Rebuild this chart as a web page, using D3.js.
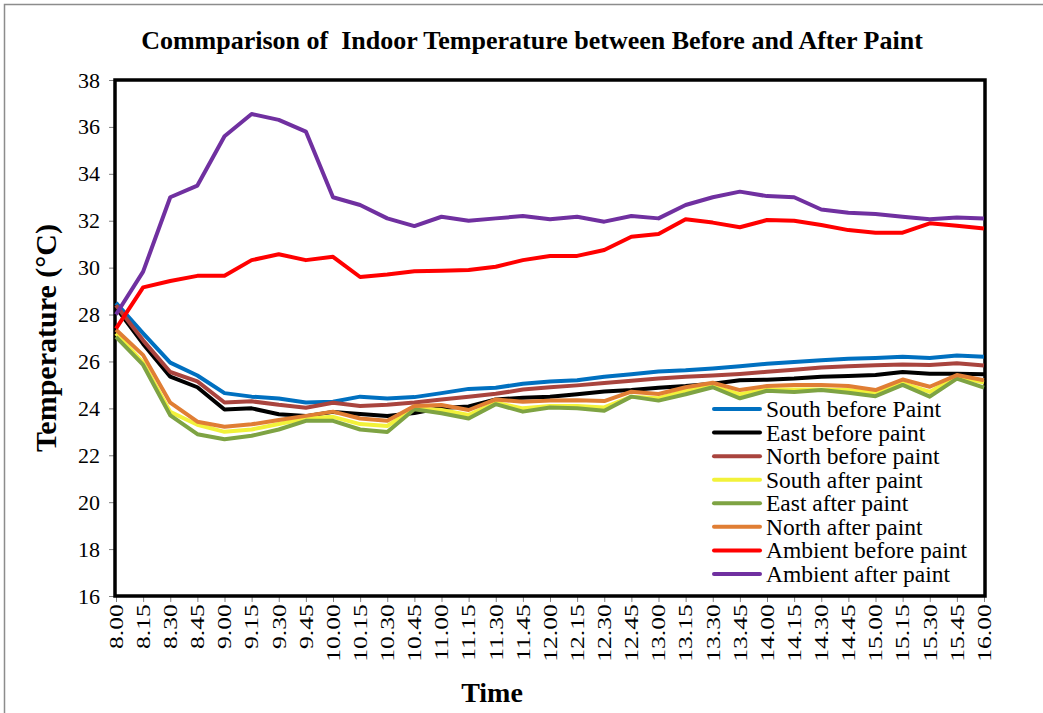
<!DOCTYPE html>
<html>
<head>
<meta charset="utf-8">
<script src="https://cdn.jsdelivr.net/npm/d3@7"></script>
<style>
  html, body { margin: 0; padding: 0; background: #fff; }
  svg { display: block; }
  text { font-family: "Liberation Serif", "Times New Roman", serif; }
</style>
</head>
<body>
<svg id="chart" width="1043" height="713"></svg>
<script>
const times = ["8.00","8.15","8.30","8.45","9.00","9.15","9.30","9.45","10.00","10.15","10.30","10.45","11.00","11.15","11.30","11.45","12.00","12.15","12.30","12.45","13.00","13.15","13.30","13.45","14.00","14.15","14.30","14.45","15.00","15.15","15.30","15.45","16.00"];

const southBefore = [28.5, 27.2, 25.95, 25.4, 24.65, 24.5, 24.42, 24.25, 24.28, 24.5, 24.42, 24.48, 24.65, 24.83, 24.88, 25.05, 25.15, 25.2, 25.35, 25.45, 25.57, 25.62, 25.7, 25.8, 25.9, 25.98, 26.05, 26.12, 26.15, 26.2, 26.15, 26.25, 26.2];
const eastBefore = [28.3, 26.75, 25.35, 24.9, 23.95, 24.0, 23.75, 23.67, 23.85, 23.76, 23.67, 23.8, 24.02, 24.08, 24.38, 24.45, 24.5, 24.6, 24.72, 24.78, 24.88, 24.95, 25.05, 25.2, 25.22, 25.27, 25.35, 25.38, 25.42, 25.55, 25.48, 25.48, 25.45];
const northBefore = [28.4, 26.9, 25.55, 25.15, 24.25, 24.3, 24.15, 24.03, 24.24, 24.1, 24.15, 24.25, 24.38, 24.5, 24.62, 24.8, 24.9, 24.98, 25.08, 25.18, 25.27, 25.35, 25.4, 25.47, 25.56, 25.65, 25.74, 25.8, 25.84, 25.87, 25.85, 25.92, 25.83];
const southAfter = [27.2, 25.95, 23.85, 23.3, 23.0, 23.1, 23.33, 23.57, 23.64, 23.33, 23.25, 24.0, 23.93, 23.72, 24.24, 24.0, 24.1, 24.1, 24.04, 24.5, 24.43, 24.75, 24.95, 24.6, 24.8, 24.8, 24.8, 24.78, 24.67, 25.08, 24.7, 25.35, 25.1];
const eastAfter = [27.05, 25.85, 23.7, 22.9, 22.68, 22.83, 23.1, 23.47, 23.47, 23.1, 22.99, 23.96, 23.79, 23.57, 24.18, 23.86, 24.04, 24.0, 23.9, 24.5, 24.33, 24.6, 24.9, 24.43, 24.75, 24.7, 24.78, 24.67, 24.52, 25.0, 24.5, 25.27, 24.88];
const northAfter = [27.35, 26.27, 24.24, 23.43, 23.22, 23.32, 23.5, 23.68, 23.86, 23.57, 23.47, 24.1, 24.14, 23.93, 24.38, 24.28, 24.33, 24.35, 24.31, 24.71, 24.61, 24.9, 25.09, 24.78, 24.95, 25.0, 25.0, 24.95, 24.78, 25.23, 24.92, 25.42, 25.2];
const ambientBefore = [27.4, 29.16, 29.43, 29.65, 29.65, 30.32, 30.57, 30.32, 30.46, 29.6, 29.71, 29.85, 29.87, 29.9, 30.04, 30.32, 30.5, 30.5, 30.75, 31.32, 31.43, 32.06, 31.92, 31.72, 32.03, 32.0, 31.82, 31.6, 31.49, 31.49, 31.89, 31.79, 31.67];
const ambientAfter = [28.0, 29.83, 33.0, 33.5, 35.6, 36.55, 36.3, 35.8, 33.0, 32.67, 32.1, 31.77, 32.17, 32.0, 32.1, 32.2, 32.06, 32.17, 31.96, 32.2, 32.1, 32.67, 33.0, 33.24, 33.05, 33.0, 32.48, 32.34, 32.29, 32.17, 32.06, 32.14, 32.09];

const seriesNames = ["South before Paint","East before paint","North before paint","South after paint","East after paint","North after paint","Ambient before paint","Ambient after paint"];
const seriesValues = [southBefore, eastBefore, northBefore, southAfter, eastAfter, northAfter, ambientBefore, ambientAfter];
const seriesColors = ["#0070C0","#000000","#A9443E","#F2F23A","#7EA343","#E07E34","#FF0000","#7030A0"];
const yTicks = [16,18,20,22,24,26,28,30,32,34,36,38];

const svg = d3.select("#chart");
const L = 115, R = 985, T = 80, B = 596;

// outer chart border
svg.append("rect").attr("x", 4.5).attr("y", 4.5).attr("width", 1050).attr("height", 720)
  .attr("fill", "#fff").attr("stroke", "#8c8c8c").attr("stroke-width", 1.5);

const x = d3.scalePoint().domain(times).range([L + 1, R - 1]);
const y = d3.scaleLinear().domain([16, 38]).range([B, T]);

// title
svg.append("text").attr("x", 532).attr("y", 49).attr("text-anchor", "middle")
  .style("white-space", "pre").attr("font-size", 26).attr("font-weight", "bold")
  .text("Commparison of  Indoor Temperature between Before and After Paint");

// y axis
const yAxis = svg.append("g").attr("transform", `translate(${L},0)`)
  .call(d3.axisLeft(y).tickValues(yTicks).tickSize(6).tickPadding(9).tickFormat(d3.format("d")));
yAxis.select(".domain").attr("stroke", "#808080").attr("stroke-width", 1);
yAxis.selectAll(".tick line").attr("stroke", "#808080");
yAxis.selectAll(".tick text").attr("font-size", 22).attr("fill", "#000")
  .attr("font-family", "Liberation Serif");

// x axis
const xAxis = svg.append("g").attr("transform", `translate(0,${B})`)
  .call(d3.axisBottom(x).tickSize(6).tickPadding(4));
xAxis.select(".domain").attr("stroke", "#808080");
xAxis.selectAll(".tick line").attr("stroke", "#808080");
xAxis.selectAll(".tick text").attr("font-size", 19).attr("fill", "#000")
  .attr("font-family", "Liberation Serif")
  .attr("text-anchor", "end").attr("dy", null)
  .attr("transform", "rotate(-90) scale(1.35,1)")
  .attr("x", -6).attr("y", 0).attr("dominant-baseline", "central");

// plot frame
svg.append("rect").attr("x", L).attr("y", T).attr("width", R - L).attr("height", B - T)
  .attr("fill", "none").attr("stroke", "#000").attr("stroke-width", 3.5);

// axis titles
svg.append("text").attr("transform", "translate(56,338) rotate(-90)")
  .attr("text-anchor", "middle").attr("font-size", 30).attr("font-weight", "bold")
  .text("Temperature (°C)");
svg.append("text").attr("x", 492).attr("y", 702).attr("text-anchor", "middle")
  .attr("font-size", 28).attr("font-weight", "bold").text("Time");

// lines
const line = d3.line().x((d, i) => x(times[i])).y(d => y(d));
svg.append("g").selectAll("path").data(seriesValues).join("path")
  .attr("d", d => line(d)).attr("fill", "none")
  .attr("stroke", (d, i) => seriesColors[i]).attr("stroke-width", 4)
  .attr("stroke-linejoin", "round");

// legend
const lg = svg.append("g");
const rowY = i => 409 + i * 23.57;
lg.selectAll("line").data(seriesNames).join("line")
  .attr("x1", 714).attr("x2", 760).attr("y1", (d, i) => rowY(i)).attr("y2", (d, i) => rowY(i))
  .attr("stroke", (d, i) => seriesColors[i]).attr("stroke-width", 4).attr("stroke-linecap", "round");
lg.selectAll("text").data(seriesNames).join("text")
  .attr("x", 766).attr("y", (d, i) => rowY(i)).attr("dominant-baseline", "central")
  .attr("font-size", 23.5).text(d => d);
</script>
</body>
</html>
